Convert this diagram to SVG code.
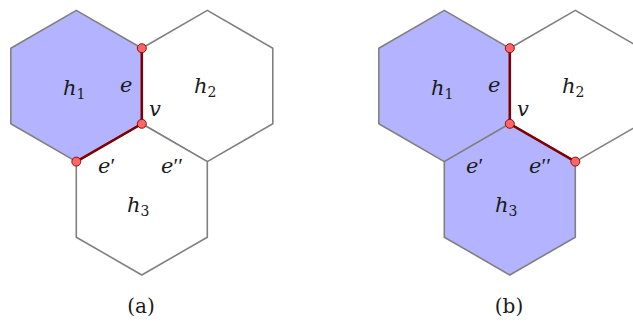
<svg xmlns="http://www.w3.org/2000/svg" width="633" height="322" viewBox="0 0 633 322">
<style>
.hex{stroke:#808080;stroke-width:1.6;stroke-linejoin:round}
.on{fill:#b3b3ff}
.off{fill:#ffffff}
.edge{stroke:#800000;stroke-width:2.6;fill:none;stroke-linecap:round}
.dot{fill:#ff6666;stroke:#800000;stroke-width:0.9}
.m{font-family:'DejaVu Serif',serif;font-style:italic;font-size:21px;fill:#1a1a1a}
.s{font-size:14px;font-style:normal}
.p{font-family:'Liberation Serif',serif;font-style:normal;font-size:22px}
.cap{font-family:'DejaVu Serif',serif;font-size:20px;fill:#1a1a1a;text-anchor:middle}
</style>
<rect width="633" height="322" fill="#ffffff"/>
<!-- panel (a) -->
<g id="a-h1"><polygon class="hex on" points="76.3,10.4 141.8,48.2 141.8,123.8 76.3,161.6 10.8,123.8 10.8,48.2"/><text class="m" x="63" y="95">h<tspan class="s" dy="4">1</tspan></text></g>
<g id="a-h2"><polygon class="hex off" points="207.3,10.4 272.8,48.2 272.8,123.8 207.3,161.6 141.8,123.8 141.8,48.2"/><text class="m" x="194" y="93">h<tspan class="s" dy="4">2</tspan></text></g>
<g id="a-h3"><polygon class="hex off" points="141.8,123.8 207.3,161.6 207.3,237.2 141.8,275 76.3,237.2 76.3,161.6"/><text class="m" x="127" y="212">h<tspan class="s" dy="4">3</tspan></text></g>
<!-- panel (b) -->
<g id="b-h1"><polygon class="hex on" points="444.3,10.4 509.8,48.2 509.8,123.8 444.3,161.6 378.8,123.8 378.8,48.2"/><text class="m" x="431" y="95">h<tspan class="s" dy="4">1</tspan></text></g>
<g id="b-h2"><polygon class="hex off" points="575.3,10.4 640.8,48.2 640.8,123.8 575.3,161.6 509.8,123.8 509.8,48.2"/><text class="m" x="562" y="93">h<tspan class="s" dy="4">2</tspan></text></g>
<g id="b-h3"><polygon class="hex on" points="509.8,123.8 575.3,161.6 575.3,237.2 509.8,275 444.3,237.2 444.3,161.6"/><text class="m" x="495" y="212">h<tspan class="s" dy="4">3</tspan></text></g>
<g id="connectors">
<path class="edge" d="M141.8,48.2 L141.8,123.8 L76.3,161.6"/>
<path class="edge" d="M509.8,48.2 L509.8,123.8 L575.3,161.6"/>
</g>
<g id="vertices">
<circle class="dot" cx="141.8" cy="48.2" r="4.5"/>
<circle class="dot" cx="141.8" cy="123.8" r="4.5"/>
<circle class="dot" cx="76.3" cy="161.6" r="4.5"/>
<circle class="dot" cx="509.8" cy="48.2" r="4.5"/>
<circle class="dot" cx="509.8" cy="123.8" r="4.5"/>
<circle class="dot" cx="575.3" cy="161.6" r="4.5"/>
</g>
<g id="labels">
<text class="m" x="120" y="92">e</text>
<text class="m" x="149" y="116">v</text>
<text class="m" x="98" y="173">e<tspan class="p">′</tspan></text>
<text class="m" x="161" y="173">e<tspan class="p">′′</tspan></text>
<text class="m" x="488" y="92">e</text>
<text class="m" x="517" y="116">v</text>
<text class="m" x="466" y="173">e<tspan class="p">′</tspan></text>
<text class="m" x="529" y="173">e<tspan class="p">′′</tspan></text>
<text class="cap" x="141" y="313">(a)</text>
<text class="cap" x="509" y="313">(b)</text>
</g>
</svg>
